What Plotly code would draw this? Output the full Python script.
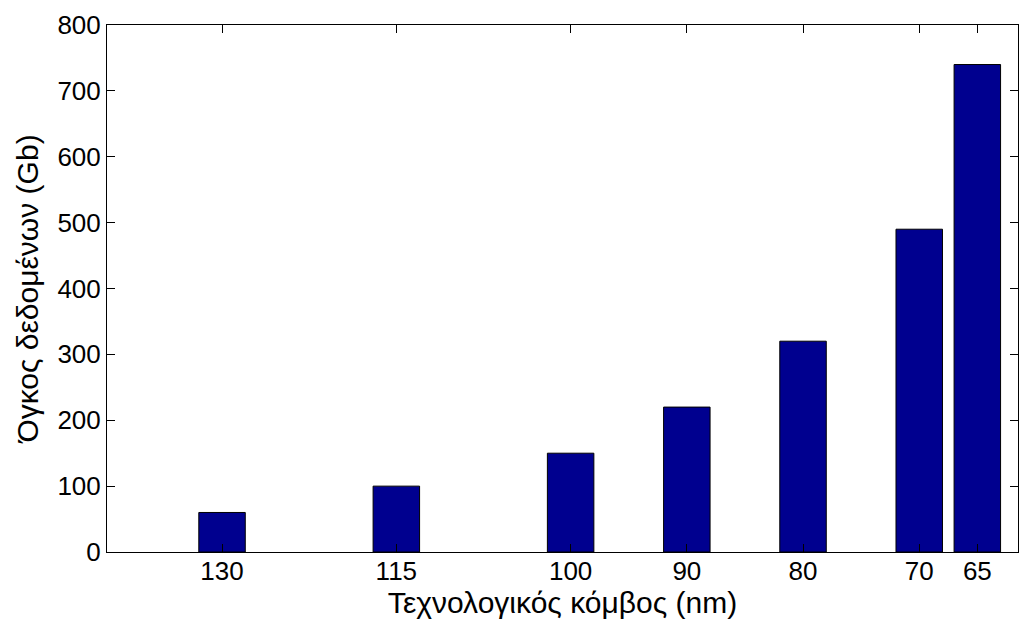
import plotly.graph_objects as go

# Technology node (nm) and data volume (Gb)
nodes = [130, 115, 100, 90, 80, 70, 65]
volume_gb = [60, 100, 150, 220, 320, 490, 740]
tick_labels = [str(n) for n in nodes]

fig = go.Figure(
    go.Bar(
        x=nodes,
        y=volume_gb,
        width=4,
        marker=dict(color="#00008F", line=dict(color="black", width=1)),
    )
)

family = "Liberation Sans, Arial, sans-serif"
tick_font = dict(family=family, size=26, color="black")
title_font = dict(family=family, size=30, color="black")

fig.update_layout(
    width=1024,
    height=621,
    margin=dict(l=107, r=6, t=25, b=69),
    paper_bgcolor="white",
    plot_bgcolor="white",
    showlegend=False,
    font=tick_font,
    xaxis=dict(
        range=[139.9, 61.5],
        tickvals=nodes,
        ticktext=tick_labels,
        ticks="inside",
        ticklen=8,
        tickcolor="black",
        showline=True,
        linecolor="black",
        linewidth=1,
        mirror="ticks",
        showgrid=False,
        zeroline=False,
        tickfont=tick_font,
        ticklabelstandoff=-4,
        title=dict(text="Τεχνολογικός κόμβος (nm)", font=title_font, standoff=2),
    ),
    yaxis=dict(
        range=[0, 800],
        dtick=100,
        ticks="inside",
        ticklen=8,
        tickcolor="black",
        showline=True,
        linecolor="black",
        linewidth=1,
        mirror="ticks",
        showgrid=False,
        zeroline=False,
        tickfont=tick_font,
        title=dict(text="Όγκος δεδομένων (Gb)", font=title_font, standoff=9),
    ),
)

fig.write_html("out.html")
